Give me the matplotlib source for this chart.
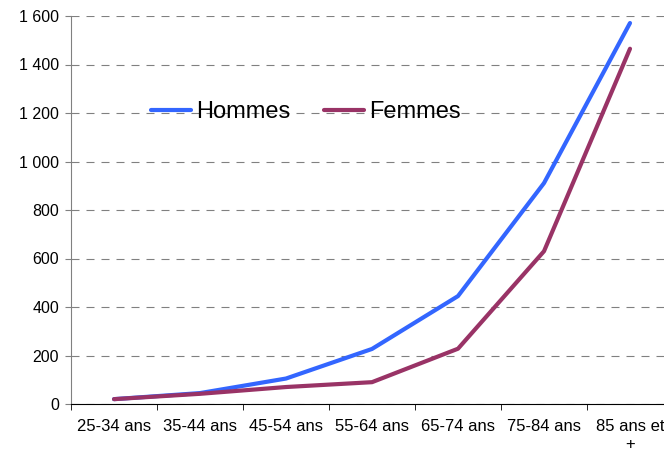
import matplotlib
matplotlib.use("Agg")
import matplotlib.pyplot as plt
import numpy as np

plt.rcParams['font.family'] = ['Liberation Sans', 'DejaVu Sans']

categories = ["25-34 ans", "35-44 ans", "45-54 ans", "55-64 ans", "65-74 ans", "75-84 ans", "85 ans et\n+"]
hommes = [20, 45, 105, 227, 445, 911, 1571]
femmes = [20, 42, 70, 90, 228, 630, 1465]
yticks = [0, 200, 400, 600, 800, 1000, 1200, 1400, 1600]
ylabels = ["0", "200", "400", "600", "800", "1 000", "1 200", "1 400", "1 600"]

fig = plt.figure(figsize=(6.64, 4.55), dpi=100)
ax = fig.add_axes([71/664, 51/455, 602/664, 388/455])
x = np.arange(len(categories))
ax.plot(x, hommes, color="#3366FF", lw=3, label="Hommes", solid_capstyle="round")
ax.plot(x, femmes, color="#993366", lw=3, label="Femmes", solid_capstyle="round")

ax.set_xlim(-0.5, len(categories) - 0.5)
ax.set_ylim(0, 1600)
ax.set_yticks(yticks)
ax.set_yticklabels(ylabels, fontsize=11.5)
ax.set_xticks(x)
ax.set_xticklabels(categories, fontsize=12, linespacing=1.25)
ax.set_xticks(np.arange(len(categories) + 1) - 0.5, minor=True)
ax.tick_params(axis='x', which='major', length=0, pad=11)
ax.tick_params(axis='x', which='minor', length=4, direction='out')
ax.tick_params(axis='y', length=4, direction='out', pad=4.5, color="#808080")
ax.yaxis.grid(True, linestyle=(0, (7.2, 6.3)), color="#808080", lw=0.8)
ax.set_axisbelow(True)
for s in ['top', 'right']:
    ax.spines[s].set_visible(False)
ax.spines['left'].set_color("#808080")
ax.spines['bottom'].set_color("black")

leg = ax.legend(loc='upper left', bbox_to_anchor=(0.117, 0.805), ncol=2, frameon=False,
                fontsize=17, handlelength=1.7, handletextpad=0.2, columnspacing=1.45,
                borderaxespad=0)
fig.savefig("out.png", dpi=100)
